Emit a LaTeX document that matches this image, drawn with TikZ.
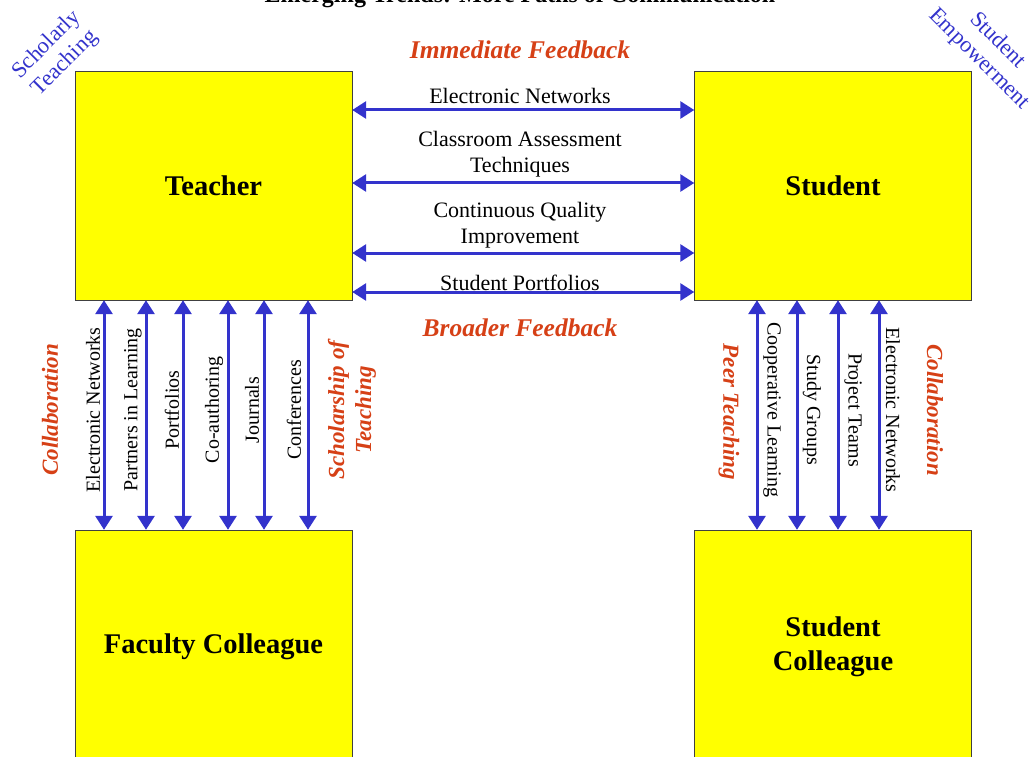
\documentclass[tikz,border=0pt]{standalone}
\usepackage{fontspec}
\setmainfont{Liberation Serif}
\usetikzlibrary{arrows.meta}
\definecolor{boxyellow}{RGB}{255,255,0}
\definecolor{pathblue}{RGB}{51,51,204}
\definecolor{feedred}{RGB}{214,64,22}
\tikzstyle{bigbox} = [draw=black!75, fill=boxyellow, thin, rectangle,
    minimum width=277pt, minimum height=229pt, inner sep=0pt,
    font=\fontsize{28.5}{34}\selectfont\bfseries, align=center]
\tikzstyle{pathlabel} = [font=\fontsize{20}{26}\selectfont, align=center, inner sep=0pt]
\tikzstyle{widelabel} = [pathlabel, font=\fontsize{22}{26}\selectfont]
\tikzstyle{redlabel} = [text=feedred, font=\fontsize{23}{27}\selectfont\bfseries\itshape,
    align=center, inner sep=0pt]
\tikzstyle{feedback} = [redlabel, font=\fontsize{25.5}{30}\selectfont\bfseries\itshape]
\tikzstyle{cornerlabel} = [text=pathblue, font=\fontsize{22.5}{26}\selectfont, align=center, inner sep=0pt]
\tikzstyle{link} = [draw=pathblue, line width=3pt,
    {Triangle[width=17pt,length=14pt]}-{Triangle[width=17pt,length=14pt]}]

\begin{document}
\begin{tikzpicture}[x=1pt,y=-1pt]
                \useasboundingbox (0,0) rectangle (1034,757);
                \node[font=\fontsize{24}{28}\selectfont\bfseries, anchor=base] (title) at (520,3)
                    {Emerging Trends: More Paths of Communication};
                \node[cornerlabel, rotate=45] (scholarly) at (56,54) {Scholarly\\Teaching};
                \node[cornerlabel, rotate=-45] (empower) at (988,50) {Student\\Empowerment};
                % the four boxes
                \node[bigbox] (teacher) at (213.5,185.5) {Teacher};
                \node[bigbox] (student) at (833,185.5) {Student};
                \node[bigbox, minimum height=234pt] (faculty) at (213.5,647) {Faculty Colleague};
                \node[bigbox, minimum height=234pt] (peer) at (833,647) {Student\\Colleague};
                % teacher <-> student
                \node[feedback] (immediate) at (520,50) {Immediate Feedback};
                \node[feedback] (broader) at (520,328) {Broader Feedback};
                \node[widelabel] (ts1) at (520,96) {Electronic Networks};
                \node[widelabel] (ts2) at (520,154) {Classroom Assessment\\Techniques};
                \node[widelabel] (ts3) at (520,225) {Continuous Quality\\Improvement};
                \node[widelabel] (ts4) at (520,283) {Student Portfolios};
                \draw[link] (teacher.east |- 0,110) -- (student.west |- 0,110);
                \draw[link] (teacher.east |- 0,183) -- (student.west |- 0,183);
                \draw[link] (teacher.east |- 0,253) -- (student.west |- 0,253);
                \draw[link] (teacher.east |- 0,292) -- (student.west |- 0,292);
                % teacher <-> faculty colleague
                \node[redlabel, rotate=90] (collabl) at (50,410) {Collaboration};
                \node[redlabel, rotate=90] (scholship) at (352,410) {Scholarship of\\Teaching};
                \node[pathlabel, rotate=90] (tf1) at (93,410) {Electronic Networks};
                \node[pathlabel, rotate=90] (tf2) at (133,410) {Partners in Learning};
                \node[pathlabel, rotate=90] (tf3) at (172,410) {Portfolios};
                \node[pathlabel, rotate=90] (tf4) at (214,410) {Co-authoring};
                \node[pathlabel, rotate=90] (tf5) at (252,410) {Journals};
                \node[pathlabel, rotate=90] (tf6) at (294,410) {Conferences};
                \draw[link] (teacher.south -| 104,0) -- (faculty.north -| 104,0);
                \draw[link] (teacher.south -| 146,0) -- (faculty.north -| 146,0);
                \draw[link] (teacher.south -| 183,0) -- (faculty.north -| 183,0);
                \draw[link] (teacher.south -| 228,0) -- (faculty.north -| 228,0);
                \draw[link] (teacher.south -| 264,0) -- (faculty.north -| 264,0);
                \draw[link] (teacher.south -| 308,0) -- (faculty.north -| 308,0);
                % student <-> student colleague
                \node[redlabel, rotate=-90] (peerteach) at (729,412) {Peer Teaching};
                \node[redlabel, rotate=-90] (collabr) at (935,410) {Collaboration};
                \node[pathlabel, rotate=-90] (sc1) at (772,410) {Cooperative Learning};
                \node[pathlabel, rotate=-90] (sc2) at (812,410) {Study Groups};
                \node[pathlabel, rotate=-90] (sc3) at (853,410) {Project Teams};
                \node[pathlabel, rotate=-90] (sc4) at (893,410) {Electronic Networks};
                \draw[link] (student.south -| 757,0) -- (peer.north -| 757,0);
                \draw[link] (student.south -| 797,0) -- (peer.north -| 797,0);
                \draw[link] (student.south -| 838,0) -- (peer.north -| 838,0);
                \draw[link] (student.south -| 879,0) -- (peer.north -| 879,0);
            \end{tikzpicture}
\end{document}
